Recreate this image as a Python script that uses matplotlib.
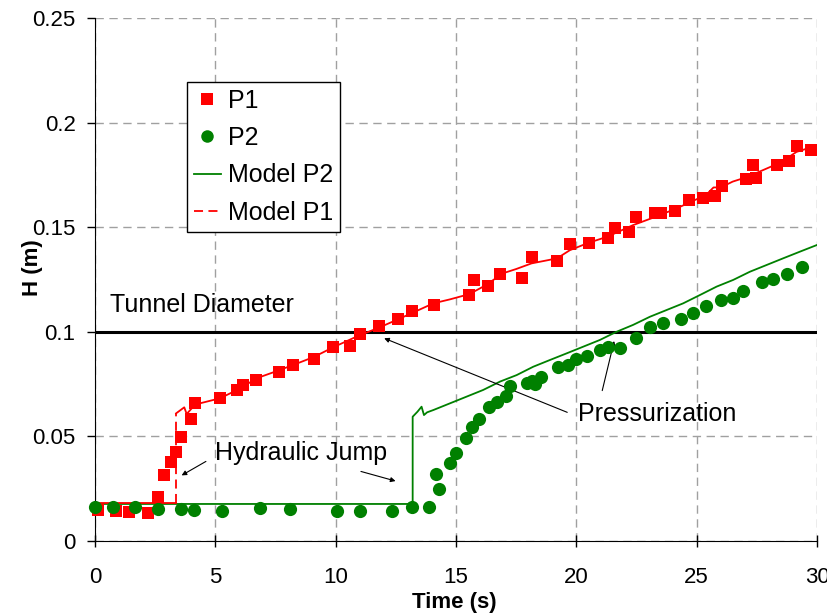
import matplotlib
matplotlib.use("Agg")
import matplotlib.pyplot as plt

plt.rcParams['font.family'] = ['Liberation Sans', 'DejaVu Sans']

# measured P1 (squares)
p1_t = [0.14, 0.87, 1.43, 2.2, 2.63, 2.87, 3.16, 3.37, 3.57, 3.97, 4.14, 5.19, 5.9, 6.14,
        6.7, 7.65, 8.23, 9.11, 9.9, 10.59, 11.02, 11.8, 12.6, 13.18, 14.07, 15.55, 15.76,
        16.34, 16.84, 17.74, 18.14, 19.21, 19.73, 20.51, 21.3, 21.62, 22.2, 22.5, 23.27,
        23.51, 24.08, 24.68, 25.27, 25.76, 26.06, 27.05, 27.45, 27.35, 28.35, 28.84,
        29.15, 29.75]
p1_h = [0.0148, 0.0145, 0.014, 0.0135, 0.021, 0.0314, 0.0378, 0.0424, 0.0499, 0.0582,
        0.0658, 0.0682, 0.0722, 0.0747, 0.077, 0.0808, 0.0841, 0.0868, 0.0926, 0.0934,
        0.0991, 0.1026, 0.106, 0.1098, 0.1127, 0.1178, 0.1248, 0.1219, 0.1276, 0.1259,
        0.1358, 0.1338, 0.1418, 0.1426, 0.145, 0.1498, 0.1479, 0.155, 0.157, 0.157,
        0.1577, 0.1628, 0.1641, 0.1648, 0.1699, 0.1729, 0.1737, 0.1797, 0.1797, 0.1818,
        0.1888, 0.1869]

# measured P2 (circles)
p2_t = [0.0, 0.76, 1.66, 2.63, 3.57, 4.13, 5.26, 6.85, 8.1, 10.04, 11.0, 12.35, 13.16,
        13.88, 14.19, 14.28, 14.75, 15.0, 15.4, 15.66, 15.97, 16.37, 16.69, 17.08, 17.25,
        17.94, 18.14, 18.28, 18.53, 19.25, 19.64, 19.97, 20.43, 20.98, 21.33, 21.81, 22.5,
        23.06, 23.61, 24.35, 24.83, 25.39, 26.03, 26.49, 26.91, 27.71, 28.18, 28.74, 29.37]
p2_h = [0.0164, 0.0164, 0.0164, 0.0151, 0.0154, 0.0148, 0.0145, 0.0156, 0.0153, 0.0143,
        0.0143, 0.0143, 0.0164, 0.0164, 0.0319, 0.0247, 0.0374, 0.0419, 0.0491, 0.0546,
        0.0583, 0.0639, 0.0666, 0.0695, 0.0742, 0.0757, 0.0766, 0.0749, 0.0785, 0.0833,
        0.0841, 0.0868, 0.0886, 0.0913, 0.0926, 0.0924, 0.0969, 0.1024, 0.1041, 0.1061,
        0.1088, 0.1125, 0.1152, 0.116, 0.1197, 0.1236, 0.1252, 0.1275, 0.1308]

# model curves
m1_t = [0, 3.37, 3.37, 3.71, 3.81, 4.02, 4.36, 5.19, 6.0, 6.72, 7.5, 8.23, 9.1, 9.9,
        10.87, 11.8, 12.5, 13.18, 14.06, 14.75, 15.55, 16.2, 16.96, 17.5, 18.14, 19.2,
        19.73, 20.5, 21.3, 22.36, 23.3, 24.17, 24.93, 25.4, 25.7, 26.0, 26.5, 27.1, 27.76,
        28.5, 29.15, 29.98]
m1_h = [0.018, 0.018, 0.061, 0.0639, 0.0607, 0.0634, 0.0658, 0.0682, 0.0727, 0.0778,
        0.081, 0.0841, 0.088, 0.0926, 0.0977, 0.102, 0.1055, 0.109, 0.1136, 0.1155, 0.118,
        0.122, 0.128, 0.130, 0.1327, 0.1351, 0.139, 0.1425, 0.1455, 0.151, 0.155, 0.159,
        0.163, 0.1655, 0.169, 0.169, 0.1718, 0.174, 0.1773, 0.181, 0.186, 0.189]
m2_t = [0, 13.2, 13.2, 13.4, 13.57, 13.67, 13.8, 14.06, 14.75, 15.44, 16.13, 16.83, 17.52,
        18.21, 18.9, 19.6, 20.29, 20.98, 21.67, 22.36, 23.06, 23.75, 24.44, 25.14, 25.83,
        26.52, 27.21, 27.9, 28.59, 29.29, 30.0]
m2_h = [0.0177, 0.0177, 0.0594, 0.0618, 0.0642, 0.0602, 0.0615, 0.0626, 0.0658, 0.069,
        0.0722, 0.0762, 0.0793, 0.0833, 0.0865, 0.0897, 0.0929, 0.0961, 0.1, 0.1033,
        0.1072, 0.1104, 0.1136, 0.1176, 0.1216, 0.1248, 0.1287, 0.1319, 0.1351, 0.1383,
        0.1415]

tunnel_d = 0.1
red = '#FF0000'
green = '#008000'

fig = plt.figure(figsize=(8.28, 6.14), dpi=100)
ax = fig.add_axes([0.1147, 0.1189, 0.872, 0.8518])

ax.grid(True, color='#A0A0A0', linestyle=(0, (6, 4)), linewidth=1)
ax.set_axisbelow(True)

ax.axhline(tunnel_d, color='black', linewidth=2.2, zorder=2)

ax.plot(m2_t, m2_h, color=green, linewidth=1.3, zorder=3)
ax.plot(m1_t[:2], m1_h[:2], color=red, linewidth=1.3, zorder=3)
ax.plot(m1_t[1:3], m1_h[1:3], color=red, linewidth=1.3, linestyle=(0, (5, 3)), zorder=3)
ax.plot(m1_t[2:], m1_h[2:], color=red, linewidth=1.3, zorder=3)

ax.plot(p1_t, p1_h, 's', color=red, markersize=9, markeredgewidth=0, zorder=4, clip_on=False)
ax.plot(p2_t, p2_h, 'o', color=green, markersize=9.5, markeredgewidth=0, zorder=4, clip_on=False)

ax.set_xlim(0, 30)
ax.set_ylim(0, 0.25)
ax.set_xticks([0, 5, 10, 15, 20, 25, 30])
ax.set_yticks([0, 0.05, 0.1, 0.15, 0.2, 0.25])
ax.set_yticklabels(['0', '0.05', '0.1', '0.15', '0.2', '0.25'])
ax.tick_params(axis='x', direction='inout', length=8, width=1, labelsize=16, pad=15)
ax.tick_params(axis='y', direction='out', length=6, width=1, labelsize=16, pad=8)
for s in ['top', 'right']:
    ax.spines[s].set_visible(False)

ax.set_xlabel('Time (s)', fontsize=16, fontweight='bold')
ax.xaxis.set_label_coords(0.497, -0.097)
ax.set_ylabel('H (m)', fontsize=16, fontweight='bold')
ax.yaxis.set_label_coords(-0.072, 0.522)

ax.text(0.62, 0.1096, 'Tunnel Diameter', fontsize=18, va='baseline')
ax.text(4.99, 0.0387, 'Hydraulic Jump', fontsize=18, va='baseline')
ax.text(20.07, 0.0575, 'Pressurization', fontsize=18, va='baseline')

arw = dict(arrowstyle='-|>', color='black', lw=0.8, mutation_scale=7)
ax.annotate('', xy=(3.50, 0.0307), xytext=(4.71, 0.0387), arrowprops=arw)
ax.annotate('', xy=(12.60, 0.0283), xytext=(10.94, 0.0336), arrowprops=arw)
ax.annotate('', xy=(11.91, 0.0974), xytext=(19.73, 0.0610), arrowprops=arw)
ax.annotate('', xy=(21.6, 0.0969), xytext=(21.05, 0.0706), arrowprops=arw)

h1, = ax.plot([], [], 's', color=red, markersize=8, markeredgewidth=0)
h2, = ax.plot([], [], 'o', color=green, markersize=9, markeredgewidth=0)
h3, = ax.plot([], [], color=green, linewidth=1.3)
h4, = ax.plot([], [], color=red, linewidth=1.3, linestyle=(0, (5, 3)))
leg = ax.legend([h1, h2, h3, h4], ['P1', 'P2', 'Model P2', 'Model P1'],
                loc='upper left', bbox_to_anchor=(0.127, 0.878), fontsize=18,
                fancybox=False, framealpha=1, edgecolor='black', borderpad=0.28,
                labelspacing=0.53, handlelength=1.1, handletextpad=0.28, borderaxespad=0)
leg.get_frame().set_linewidth(1)

fig.savefig('out.png', dpi=100)
